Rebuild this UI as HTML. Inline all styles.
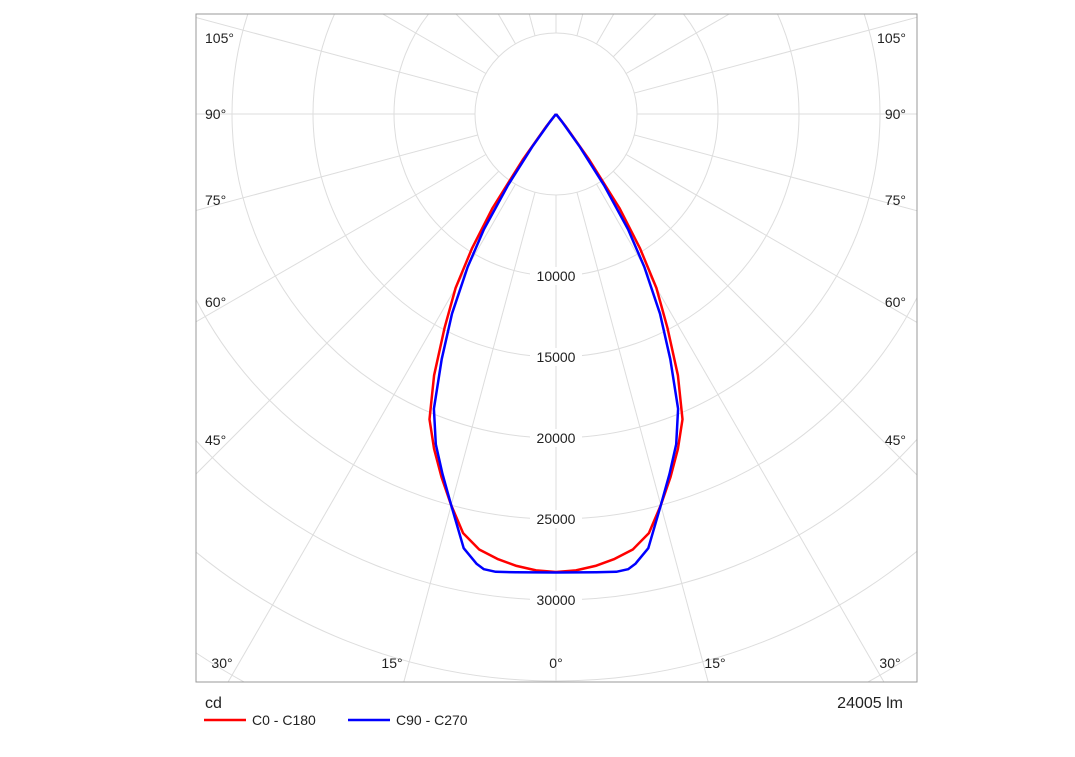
<!DOCTYPE html>
<html><head><meta charset="utf-8"><style>
html,body{margin:0;padding:0;background:#fff;overflow:hidden;width:1075px;height:757px;}
svg{display:block;}
svg text{font-family:"Liberation Sans",sans-serif;fill:#222;}
</style></head><body>
<svg id="chart" width="1075" height="757" viewBox="0 0 1075 757" xmlns="http://www.w3.org/2000/svg">
<defs><clipPath id="frameClip"><rect x="196" y="14" width="721" height="668"/></clipPath></defs>
<g id="grid" clip-path="url(#frameClip)"></g>
<rect x="196" y="14" width="721" height="668" fill="none" stroke="#999" stroke-width="1"/>
<g id="rlabels"></g>
<g id="curves" clip-path="url(#frameClip)"></g>
<g id="alabels"></g>
<text x="205" y="708" font-size="16">cd</text>
<text x="903" y="708" font-size="16" text-anchor="end">24005 lm</text>
<g>
<line x1="204" y1="720" x2="246" y2="720" stroke="#f00" stroke-width="2.5"/>
<text x="252" y="725" font-size="14">C0 - C180</text></g>
<g>
<line x1="348" y1="720" x2="390" y2="720" stroke="#00f" stroke-width="2.5"/>
<text x="396" y="725" font-size="14">C90 - C270</text></g>
</svg>
<script>
const rTicks=[10000,15000,20000,25000,30000];
const angleLabelsLeft=["105°","90°","75°","60°","45°"];
const angleLabelsBottom=["30°","15°","0°","15°","30°"];
const c0Angles=[0,2.5,5,7.5,10,12.5,15,17.5,20,22.5,25,27.5,30,32,34,36,38,40];
const c0Values=[28270,28200,28000,27700,27300,26500,25000,23500,22000,20400,17800,14900,12400,9800,7000,3500,1000,0];
const c90Angles=[0,5,7.5,9,10,12,15,17.5,20,22.5,25,27.5,30,32,34,36,38,40];
const c90Values=[28300,28400,28500,28450,28200,27400,25000,23300,21700,19700,16700,13900,10900,8400,5300,2500,600,0];

const NS="http://www.w3.org/2000/svg";
const cx=556, cy=114, pxPer=81/5000;
function rad(v){return v*pxPer;}
function px(a,v){return cx+rad(v)*Math.sin(a*Math.PI/180);}
function py(a,v){return cy+rad(v)*Math.cos(a*Math.PI/180);}
function mk(tag,attrs,parent){const e=document.createElementNS(NS,tag);for(const k in attrs)e.setAttribute(k,attrs[k]);parent.appendChild(e);return e;}

const grid=document.getElementById('grid');
for(let k=1;k<=12;k++){
  const c=mk('circle',{cx:cx,cy:cy,r:rad(k*5000),fill:'none',stroke:'#ddd','stroke-width':1},grid);
  
  
}
for(let a=0;a<360;a+=15){
  const l=mk('line',{x1:px(a,5000),y1:py(a,5000),x2:px(a,80000),y2:py(a,80000),stroke:'#ddd','stroke-width':1},grid);
  
  
}
const rl=document.getElementById('rlabels');
rTicks.forEach(v=>{
  const y=py(0,v);
  mk('rect',{x:cx-26,y:y-9,width:52,height:18,fill:'#fff'},rl);
  const t=mk('text',{x:cx,y:y+5,'font-size':14,'text-anchor':'middle'},rl);
  t.textContent=v;
  
  
});
const al=document.getElementById('alabels');
const leftY=[38,114,200,302,440];
angleLabelsLeft.forEach((s,i)=>{
  let t=mk('text',{x:205,y:leftY[i]+5,'font-size':14},al);t.textContent=s;
  
  
  t=mk('text',{x:906,y:leftY[i]+5,'font-size':14,'text-anchor':'end'},al);t.textContent=s;
  
  
});
const bottomX=[222,392,556,715,890];
angleLabelsBottom.forEach((s,i)=>{
  const t=mk('text',{x:bottomX[i],y:668,'font-size':14,'text-anchor':'middle'},al);t.textContent=s;
  
  
});
function curve(angles,vals,color,name){
  const pts=[];
  for(let i=angles.length-1;i>=0;i--)pts.push(px(-angles[i],vals[i]).toFixed(1)+','+py(-angles[i],vals[i]).toFixed(1));
  for(let i=1;i<angles.length;i++)pts.push(px(angles[i],vals[i]).toFixed(1)+','+py(angles[i],vals[i]).toFixed(1));
  const p=mk('polyline',{points:pts.join(' '),fill:'none',stroke:color,'stroke-width':2.5,'stroke-linejoin':'round'},document.getElementById('curves'));
  
  
}
curve(c0Angles,c0Values,'#f00','curve-c0-c180');
curve(c90Angles,c90Values,'#00f','curve-c90-c270');
</script>
</body></html>
